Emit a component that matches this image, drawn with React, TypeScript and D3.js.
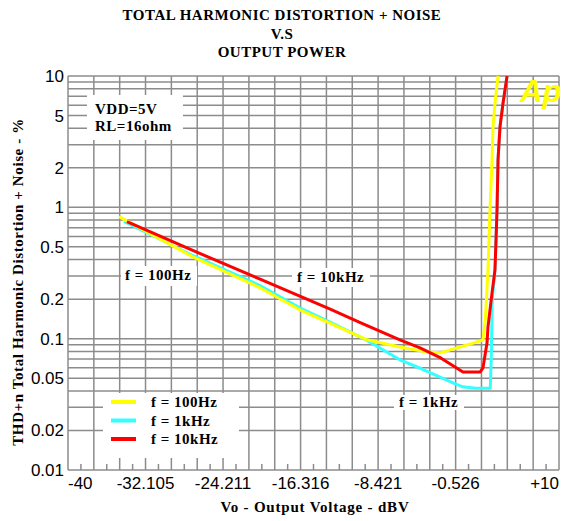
import React from 'react';
import * as d3 from 'd3';

// readings taken off the plot (dBV, %)
const yellowDbv = [-34.8, -27.3, -20.5, -16.4, -13.0, -9.55, -6.2, -3.4, -2.1, -0.1, 1.2, 2.26, 2.5, 2.77, 2.97, 3.18, 3.28, 3.48, 3.79];
const yellowThd = [0.85, 0.42, 0.245, 0.166, 0.128, 0.098, 0.0865, 0.079, 0.078, 0.0865, 0.092, 0.098, 0.14, 0.333, 0.955, 2.3, 4.1, 6.2, 10];

const cyanDbv = [-34.3, -27.3, -20.5, -16.4, -13.0, -9.55, -6.2, -4.0, -0.8, 0.2, 1.5, 3.0, 3.1, 3.2, 3.48, 3.69, 3.79, 3.99, 4.3, 4.71];
const cyanThd = [0.78, 0.43, 0.255, 0.172, 0.13, 0.097, 0.069, 0.059, 0.046, 0.043, 0.042, 0.042, 0.07, 0.197, 0.333, 0.955, 2.3, 4.1, 6.2, 10];

const redDbv = [-34.0, -27.3, -20.5, -13.3, -10.3, -6.2, -4.15, -2.0, 0.22, 1.96, 2.26, 2.67, 2.77, 3.18, 3.48, 3.69, 3.79, 3.99, 4.3, 4.71];
const redThd = [0.78, 0.47, 0.285, 0.168, 0.133, 0.098, 0.085, 0.071, 0.0557, 0.0557, 0.06, 0.093, 0.123, 0.223, 0.333, 0.955, 2.3, 4.1, 6.2, 10];

const xTickValues = [-40, -32.105, -24.211, -16.316, -8.421, -0.526, 10];
const xTickLabels = ['-40', '-32.105', '-24.211', '-16.316', '-8.421', '-0.526', '+10'];
const yTickValues = [10, 5, 2, 1, 0.5, 0.2, 0.1, 0.05, 0.02, 0.01];
const yTickLabels = ['10', '5', '2', '1', '0.5', '0.2', '0.1', '0.05', '0.02', '0.01'];

const legendNames = ['f = 100Hz', 'f = 1kHz', 'f = 10kHz'];
const seriesColors = ['#ffff00', '#33ffff', '#ff0000'];

const W = 561;
const H = 521;
const GRID = '#8c8c8c';
const SERIF = '"Liberation Serif", "Times New Roman", serif';
const SANS = '"Liberation Sans", Arial, sans-serif';

export default function App() {
  const x = d3.scaleLinear().domain([-40, 10]).range([68, 559]);
  const y = d3.scaleLog().domain([0.01, 10]).range([470, 76]);

  // 19 divisions between -40 and +10
  const step = 50 / 19;
  const xGrid = d3.range(20).map(i => -40 + i * step);
  const xMinor = d3.range(19).map(i => -40 + (i + 0.5) * step);
  const yGrid: number[] = [];
  [0.01, 0.1, 1].forEach(d => d3.range(1, 10).forEach(k => yGrid.push(k * d)));
  yGrid.push(10);

  const line = d3.line<[number, number]>()
    .x(d => x(d[0]))
    .y(d => y(d[1]));

  const series = [
    { dbv: cyanDbv, thd: cyanThd, color: seriesColors[1] },
    { dbv: yellowDbv, thd: yellowThd, color: seriesColors[0] },
    { dbv: redDbv, thd: redThd, color: seriesColors[2] },
  ];

  const [x0, x1] = x.range();
  const [yb, yt] = y.range();
  const last = xTickValues.length - 1;

  return (
    <div style={{ position: 'absolute', left: 0, top: 0 }}>
      <svg width={W} height={H} style={{ display: 'block', background: '#fff' }}>
        {/* title */}
        <g fontFamily={SERIF} fontWeight="bold" fontSize={15} letterSpacing={0.5} textAnchor="middle" fill="#000">
          <text x={282} y={20}>TOTAL HARMONIC DISTORTION + NOISE</text>
          <text x={282} y={39}>V.S</text>
          <text x={282} y={57}>OUTPUT POWER</text>
        </g>

        {/* grid */}
        <g stroke={GRID} strokeWidth={1.5}>
          {xGrid.map((v, i) => (
            <line key={'gx' + i} x1={x(v)} x2={x(v)} y1={yt} y2={yb} />
          ))}
          {yGrid.map((v, i) => (
            <line key={'gy' + i} x1={x0} x2={x1} y1={y(v)} y2={y(v)} />
          ))}
          {xMinor.map((v, i) => (
            <line key={'mx' + i} x1={x(v)} x2={x(v)} y1={yb - 6} y2={yb} />
          ))}
        </g>

        {/* white label boxes over the grid */}
        <g fill="#fff">
          <rect x={87} y={95} width={96} height={45} />
          <rect x={103} y={393} width={136} height={65} />
          <rect x={121} y={266} width={76} height={20} />
          <rect x={292} y={268} width={78} height={19} />
          <rect x={394} y={395} width={70} height={15} />
        </g>

        {/* x tick labels */}
        <g fontFamily={SANS} fontSize={17} fill="#000">
          {xTickValues.map((v, i) => (
            <text
              key={'xl' + i}
              x={x(v)}
              y={489}
              textAnchor={i === 0 ? 'start' : i === last ? 'end' : 'middle'}
            >
              {xTickLabels[i]}
            </text>
          ))}
        </g>

        {/* y tick labels */}
        <g fontFamily={SANS} fontSize={17} fill="#000" textAnchor="end">
          {yTickValues.map((v, i) => (
            <text key={'yl' + i} x={64} y={y(v) + 6}>{yTickLabels[i]}</text>
          ))}
        </g>

        {/* axis titles */}
        <text x={315} y={512} textAnchor="middle" fontFamily={SERIF} fontWeight="bold" fontSize={15} letterSpacing={0.8}>
          Vo - Output Voltage - dBV
        </text>
        <text
          transform="translate(23,282) rotate(-90)"
          textAnchor="middle"
          fontFamily={SERIF}
          fontWeight="bold"
          fontSize={15}
          letterSpacing={0.6}
        >
          THD+n Total Harmonic Distortion + Noise - %
        </text>

        {/* curves */}
        <g fill="none" strokeWidth={3} strokeLinejoin="round">
          {series.map((s, i) => (
            <path
              key={'s' + i}
              d={line(s.dbv.map((v, j) => [v, s.thd[j]] as [number, number])) || ''}
              stroke={s.color}
            />
          ))}
        </g>

        {/* annotations */}
        <g fontFamily={SERIF} fontWeight="bold" fontSize={15} letterSpacing={0.5} fill="#000">
          <text x={95} y={114}>VDD=5V</text>
          <text x={95} y={131}>RL=16ohm</text>
          <text x={125} y={280}>f = 100Hz</text>
          <text x={297} y={282}>f = 10kHz</text>
          <text x={399} y={407}>f = 1kHz</text>
        </g>

        {/* legend */}
        {legendNames.map((name, i) => (
          <g key={'lg' + i} transform={`translate(0,${402 + i * 18.5})`}>
            <line x1={111} x2={136} y1={0} y2={0} stroke={seriesColors[i]} strokeWidth={4} />
            <text x={151} y={5} fontFamily={SERIF} fontWeight="bold" fontSize={15} letterSpacing={0.5}>{name}</text>
          </g>
        ))}

        {/* Ap logo */}
        <text
          x={520}
          y={102}
          fontFamily={SANS}
          fontWeight="bold"
          fontStyle="italic"
          fontSize={31}
          fill="#ffff00"
        >
          Ap
        </text>
      </svg>
    </div>
  );
}
